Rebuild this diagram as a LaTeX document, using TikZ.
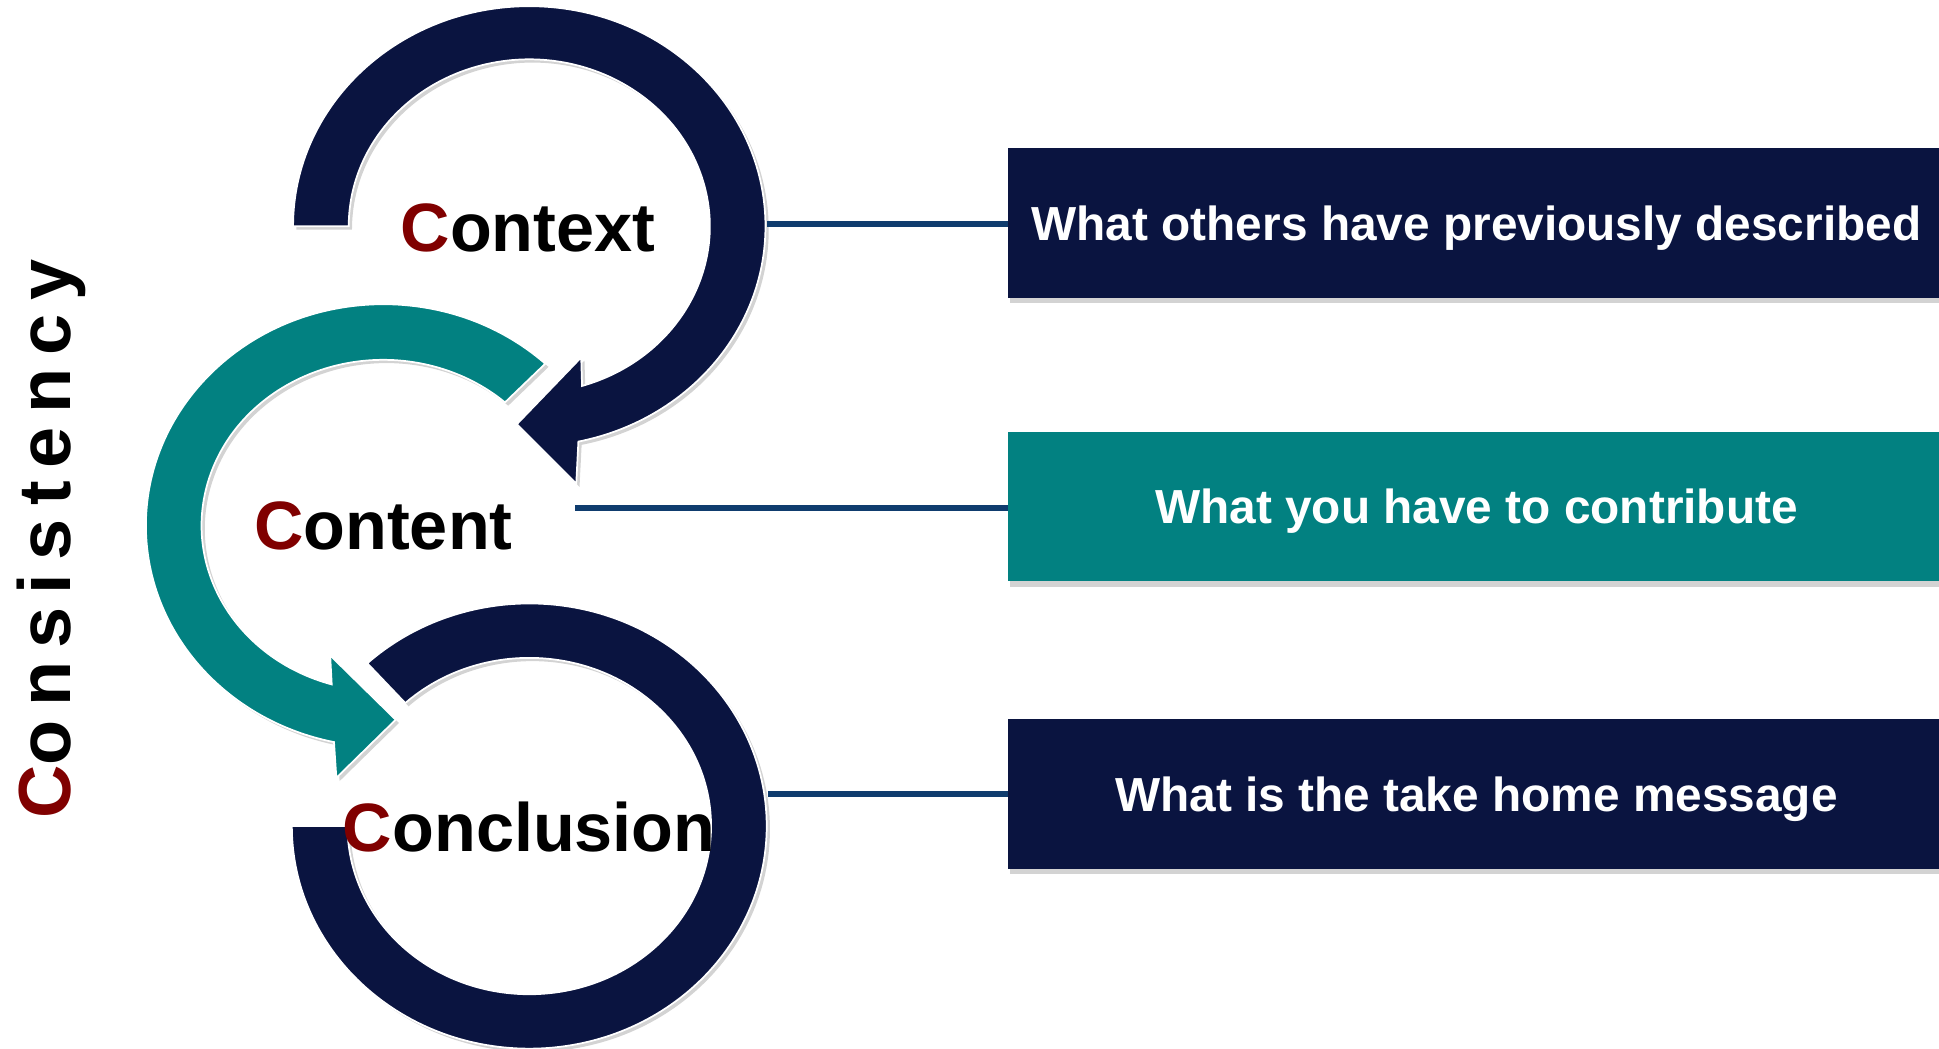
\documentclass[tikz,border=0pt]{standalone}
\usepackage{fontspec}
\setmainfont{Liberation Sans}
\newfontfamily\spacedfont[LetterSpace=18]{Liberation Sans}
\usetikzlibrary{shadows}
\definecolor{navy}{RGB}{10,20,64}
\definecolor{tealfill}{RGB}{2,129,129}
\definecolor{capred}{RGB}{128,0,0}
\definecolor{linkblue}{RGB}{15,60,110}
\begin{document}
\begin{tikzpicture}[x=0.02cm,y=0.02cm,inner sep=0pt,outer sep=0pt,
ring/.style={draw=white,line width=0.8pt,drop shadow={shadow xshift=1.5pt,shadow yshift=-1.5pt,opacity=0.35}},
infobox/.style={rectangle,minimum width=15.16cm,minimum height=2.42cm,text height=16pt,text depth=0pt,text=white,font=\bfseries\fontsize{22}{26}\selectfont,drop shadow={shadow xshift=1pt,shadow yshift=-2.5pt,opacity=0.35}},
cword/.style={font=\bfseries\fontsize{31.5}{36}\selectfont},
link/.style={draw=linkblue,line width=2.6pt}]
\useasboundingbox (0,0) rectangle (1568,-848);
% conclusion ring
\begin{scope}[shift={(428,-668)}]
\draw[ring,fill=navy] (180:192 and 180) arc[start angle=180,end angle=493,x radius=192,y radius=180]
  -- (133:147 and 136) arc[start angle=133,end angle=-180,x radius=147,y radius=136] -- cycle;
\end{scope}
% content arrow
\begin{scope}[shift={(310,-425)}]
\draw[ring,fill=tealfill] (47:192 and 179) arc[start angle=47,end angle=258,x radius=192,y radius=179]
  -- (-38,-204) -- (10,-157) -- (-43,-105)
  -- (253.5:147 and 134) arc[start angle=253.5,end angle=48,x radius=147,y radius=134] -- cycle;
\end{scope}
% context arrow
\begin{scope}[shift={(428,-183)}]
\draw[ring,fill=navy] (180:191 and 178) arc[start angle=180,end angle=-78,x radius=191,y radius=178]
  -- (38,-208) -- (-10,-160) -- (42,-106)
  -- (-73:146 and 135) arc[start angle=-73,end angle=180,x radius=146,y radius=135] -- cycle;
\end{scope}
\node[cword] (ctx) at (427,-184) {{\color{capred}C}ontext};
\node[cword] (cnt) at (310,-425) {{\color{capred}C}ontent};
\node[cword] (ccl) at (428,-669) {{\color{capred}C}onclusion};
\node[rotate=90,anchor=base west,font=\spacedfont\bfseries\fontsize{34}{40}\selectfont] (cons) at (57,-662) {{\color{capred}C}onsistency};
% boxes
\node[infobox,fill=navy] (B1) at (1194,-180.5) {What others have previously described};
\node[infobox,fill=tealfill] (B2) at (1194,-409.5) {What you have to contribute};
\node[infobox,fill=navy] (B3) at (1194,-642) {What is the take home message};
\coordinate (L1) at (620,-181);
\coordinate (L2) at (465,-411);
\coordinate (L3) at (621,-642);
\draw[link] (L1) -- (L1 -| B1.west);
\draw[link] (L2) -- (L2 -| B2.west);
\draw[link] (L3) -- (L3 -| B3.west);
\end{tikzpicture}
\end{document}
